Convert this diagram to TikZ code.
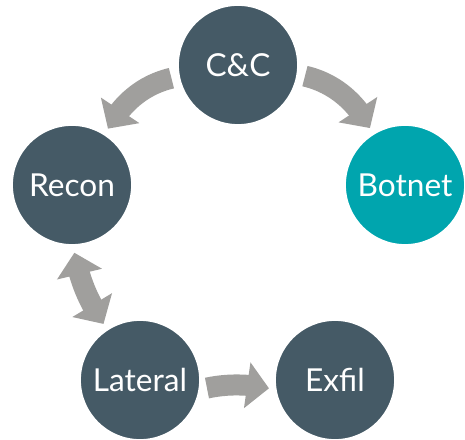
\documentclass[tikz,border=0pt]{standalone}
\usepackage{fontspec}
\setsansfont{Lato}
\usetikzlibrary{arrows.meta,bending}

\definecolor{slate}{HTML}{455A66}
\definecolor{teal}{HTML}{00A5AE}
\definecolor{flowgray}{HTML}{A09F9D}

\tikzset{
    stage/.style={circle,fill=slate,draw=white,line width=1pt,minimum size=2.4cm,
        inner sep=0pt,text=white,font=\sffamily\fontsize{18}{20}\selectfont},
    headtip/.tip={Triangle[width=0.9cm,length=0.44cm]},
    flow/.style={draw=flowgray,line width=0.42cm,shorten <=0.14cm,shorten >=0.12cm}
}

\begin{document}
\begin{tikzpicture}[x=0.02cm,y=0.02cm]
                \useasboundingbox (0,0) rectangle (465,439);
                % stages
                \node[stage] (cc) at (238,374) {C\&C};
                \node[stage] (recon) at (72,254) {Recon};
                \node[stage,fill=teal] (botnet) at (405,254) {Botnet};
                \node[stage] (lateral) at (140,59) {Lateral};
                \node[stage] (exfil) at (335,59) {Exfil};
                % arrows
                \draw[flow,-headtip]
                    (cc.191) to[bend right=25] (recon.57);
                \draw[flow,-headtip]
                    (cc.351) to[bend left=25] (botnet.122);
                \draw[flow,headtip-headtip]
                    (recon.271) to[bend right=12] (lateral.123);
                \draw[flow,-headtip]
                    (lateral.351) to[bend left=12] (exfil.189);
            \end{tikzpicture}
\end{document}
